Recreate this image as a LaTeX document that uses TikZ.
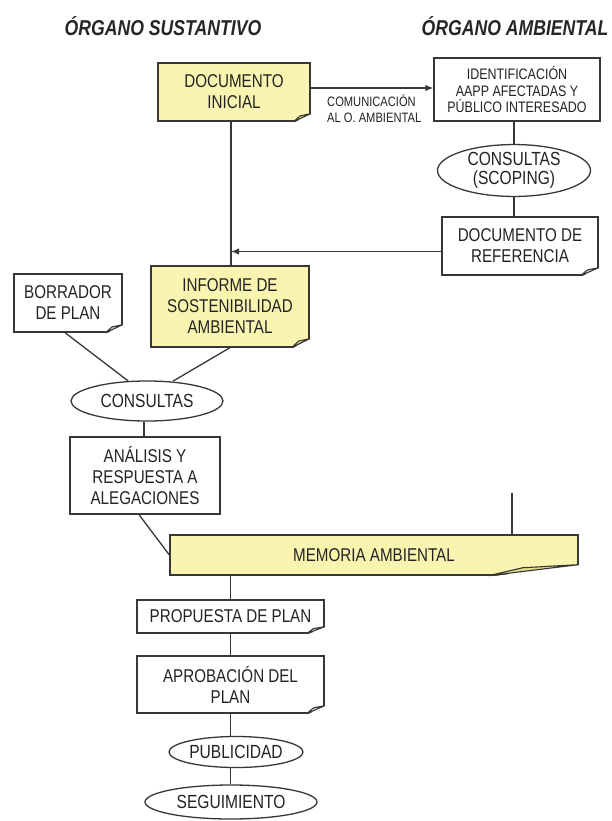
\documentclass[tikz,border=0pt]{standalone}
\usepackage{fontspec}
\setmainfont{Liberation Sans}[FakeStretch=0.82]
\usetikzlibrary{shapes.geometric,arrows.meta,calc}
\definecolor{ln}{RGB}{55,55,55}
\definecolor{tx}{RGB}{35,35,35}
\definecolor{yel}{RGB}{249,245,176}
\definecolor{yelflap}{RGB}{228,220,140}
\definecolor{whflap}{RGB}{232,232,232}
\newcommand\foldc[4]{%
  \fill[white] ($(#1.south east)+(-#2,1.2)$) -- ($(#1.south east)+(1.2,1.2)$) -- ($(#1.south east)+(1.2,-#3)$) -- cycle;
  \filldraw[fill=#4,draw=ln,line width=1.1pt,line join=round]
    ($(#1.south east)+(-#2,0)$) -- ($(#1.south east)+(-0.62*#2,-0.72*#3)$) -- ($(#1.south east)+(0,-#3)$) -- cycle;
}
\begin{document}
\begin{tikzpicture}[x=1pt,y=-1pt,
  every node/.style={text=tx},
  box/.style={draw=ln,line width=1.3pt,rectangle,inner sep=0pt,align=center,
    font=\fontsize{18.5}{21}\selectfont},
  oval/.style={draw=ln,line width=1.3pt,ellipse,inner sep=0pt,align=center,
    font=\fontsize{19}{19.5}\selectfont},
  conn/.style={draw=ln,line width=1.3pt},
  arr/.style={conn,-{Latex[length=8pt,width=6.5pt]}},
  ttl/.style={font=\fontsize{21.5}{24}\selectfont\bfseries\itshape,text=black!85}]
\path[use as bounding box] (0,0) rectangle (611,821);
\fill[white] (0,0) rectangle (611,821);

\node[ttl] (t1) at (163,26) {ÓRGANO SUSTANTIVO};
\node[ttl] (t2) at (515,26) {ÓRGANO AMBIENTAL};

\node[box,fill=yel,minimum width=152pt,minimum height=58pt] (doc) at (234,92) {DOCUMENTO\\INICIAL};
\node[box,minimum width=166pt,minimum height=63pt,font=\fontsize{15.2}{16.5}\selectfont] (idb) at (517,89.5) {IDENTIFICACIÓN\\AAPP AFECTADAS Y\\PÚBLICO INTERESADO};
\node[oval,minimum width=153pt,minimum height=47pt] (scop) at (514,170.5) {CONSULTAS\\(SCOPING)};
\node[box,minimum width=156pt,minimum height=58pt] (ref) at (520,246) {DOCUMENTO DE\\REFERENCIA};
\node[box,fill=yel,minimum width=158pt,minimum height=81pt] (inf) at (230,306.5) {INFORME DE\\SOSTENIBILIDAD\\AMBIENTAL};
\node[box,minimum width=108pt,minimum height=58pt] (bor) at (68,303) {BORRADOR\\DE PLAN};
\node[oval,minimum width=152pt,minimum height=40pt] (cons) at (147,401) {CONSULTAS};
\node[box,minimum width=150pt,minimum height=77pt] (ana) at (145,475.5) {ANÁLISIS Y\\RESPUESTA A\\ALEGACIONES};
\node[box,fill=yel,minimum width=408pt,minimum height=40pt] (mem) at (374,555) {MEMORIA AMBIENTAL};
\node[box,minimum width=187pt,minimum height=33pt] (prop) at (230.5,616.5) {PROPUESTA DE PLAN};
\node[box,minimum width=187pt,minimum height=57pt] (apr) at (230.5,684.5) {APROBACIÓN DEL\\PLAN};
\node[oval,minimum width=134pt,minimum height=31pt] (pub) at (236,752) {PUBLICIDAD};
\node[oval,minimum width=172pt,minimum height=34pt] (seg) at (231,802) {SEGUIMIENTO};

\node[anchor=north west,inner sep=0pt,align=left,font=\fontsize{13.6}{15.5}\selectfont] (com) at (327,95) {COMUNICACIÓN\\AL O. AMBIENTAL};

\foldc{doc}{17}{8}{yelflap}
\foldc{ref}{18}{8}{whflap}
\foldc{inf}{18}{9}{yelflap}
\foldc{bor}{17}{8}{whflap}
\foldc{mem}{90}{11}{yelflap}
\foldc{prop}{18}{7}{whflap}
\foldc{apr}{18}{8}{whflap}

\coordinate (j) at (231,251.5);
\coordinate (amb) at (512,493);

\draw[arr] (doc.east |- 0,88) -- (idb.west |- 0,88);
\draw[conn] (idb.south -| scop.north) -- (scop.north);
\draw[conn] (scop.south) -- (ref.north -| scop.south);
\draw[arr] (ref.west |- j) -- (j);
\draw[conn] (doc.south -| j) -- (inf.north -| j);
\draw[conn] ($(bor.south)+(-3,0)$) -- ($(cons.north)+(-19,0.5)$);
\draw[conn] (inf.south) -- ($(cons.north)+(26,0.8)$);
\draw[conn] ($(cons.south)+(-3,0)$) -- ($(ana.north)+(-1,0)$);
\draw[conn] ($(ana.south)+(-6,0)$) -- (mem.west);
\draw[conn] (amb) -- (mem.north -| amb);
\draw[conn] (mem.south -| prop.north) -- (prop.north);
\draw[conn] (prop.south) -- (apr.north);
\draw[conn] (apr.south) -- (pub.north -| apr.south);
\draw[conn] (pub.south -| apr.south) -- (seg.north -| apr.south);
\end{tikzpicture}
\end{document}
